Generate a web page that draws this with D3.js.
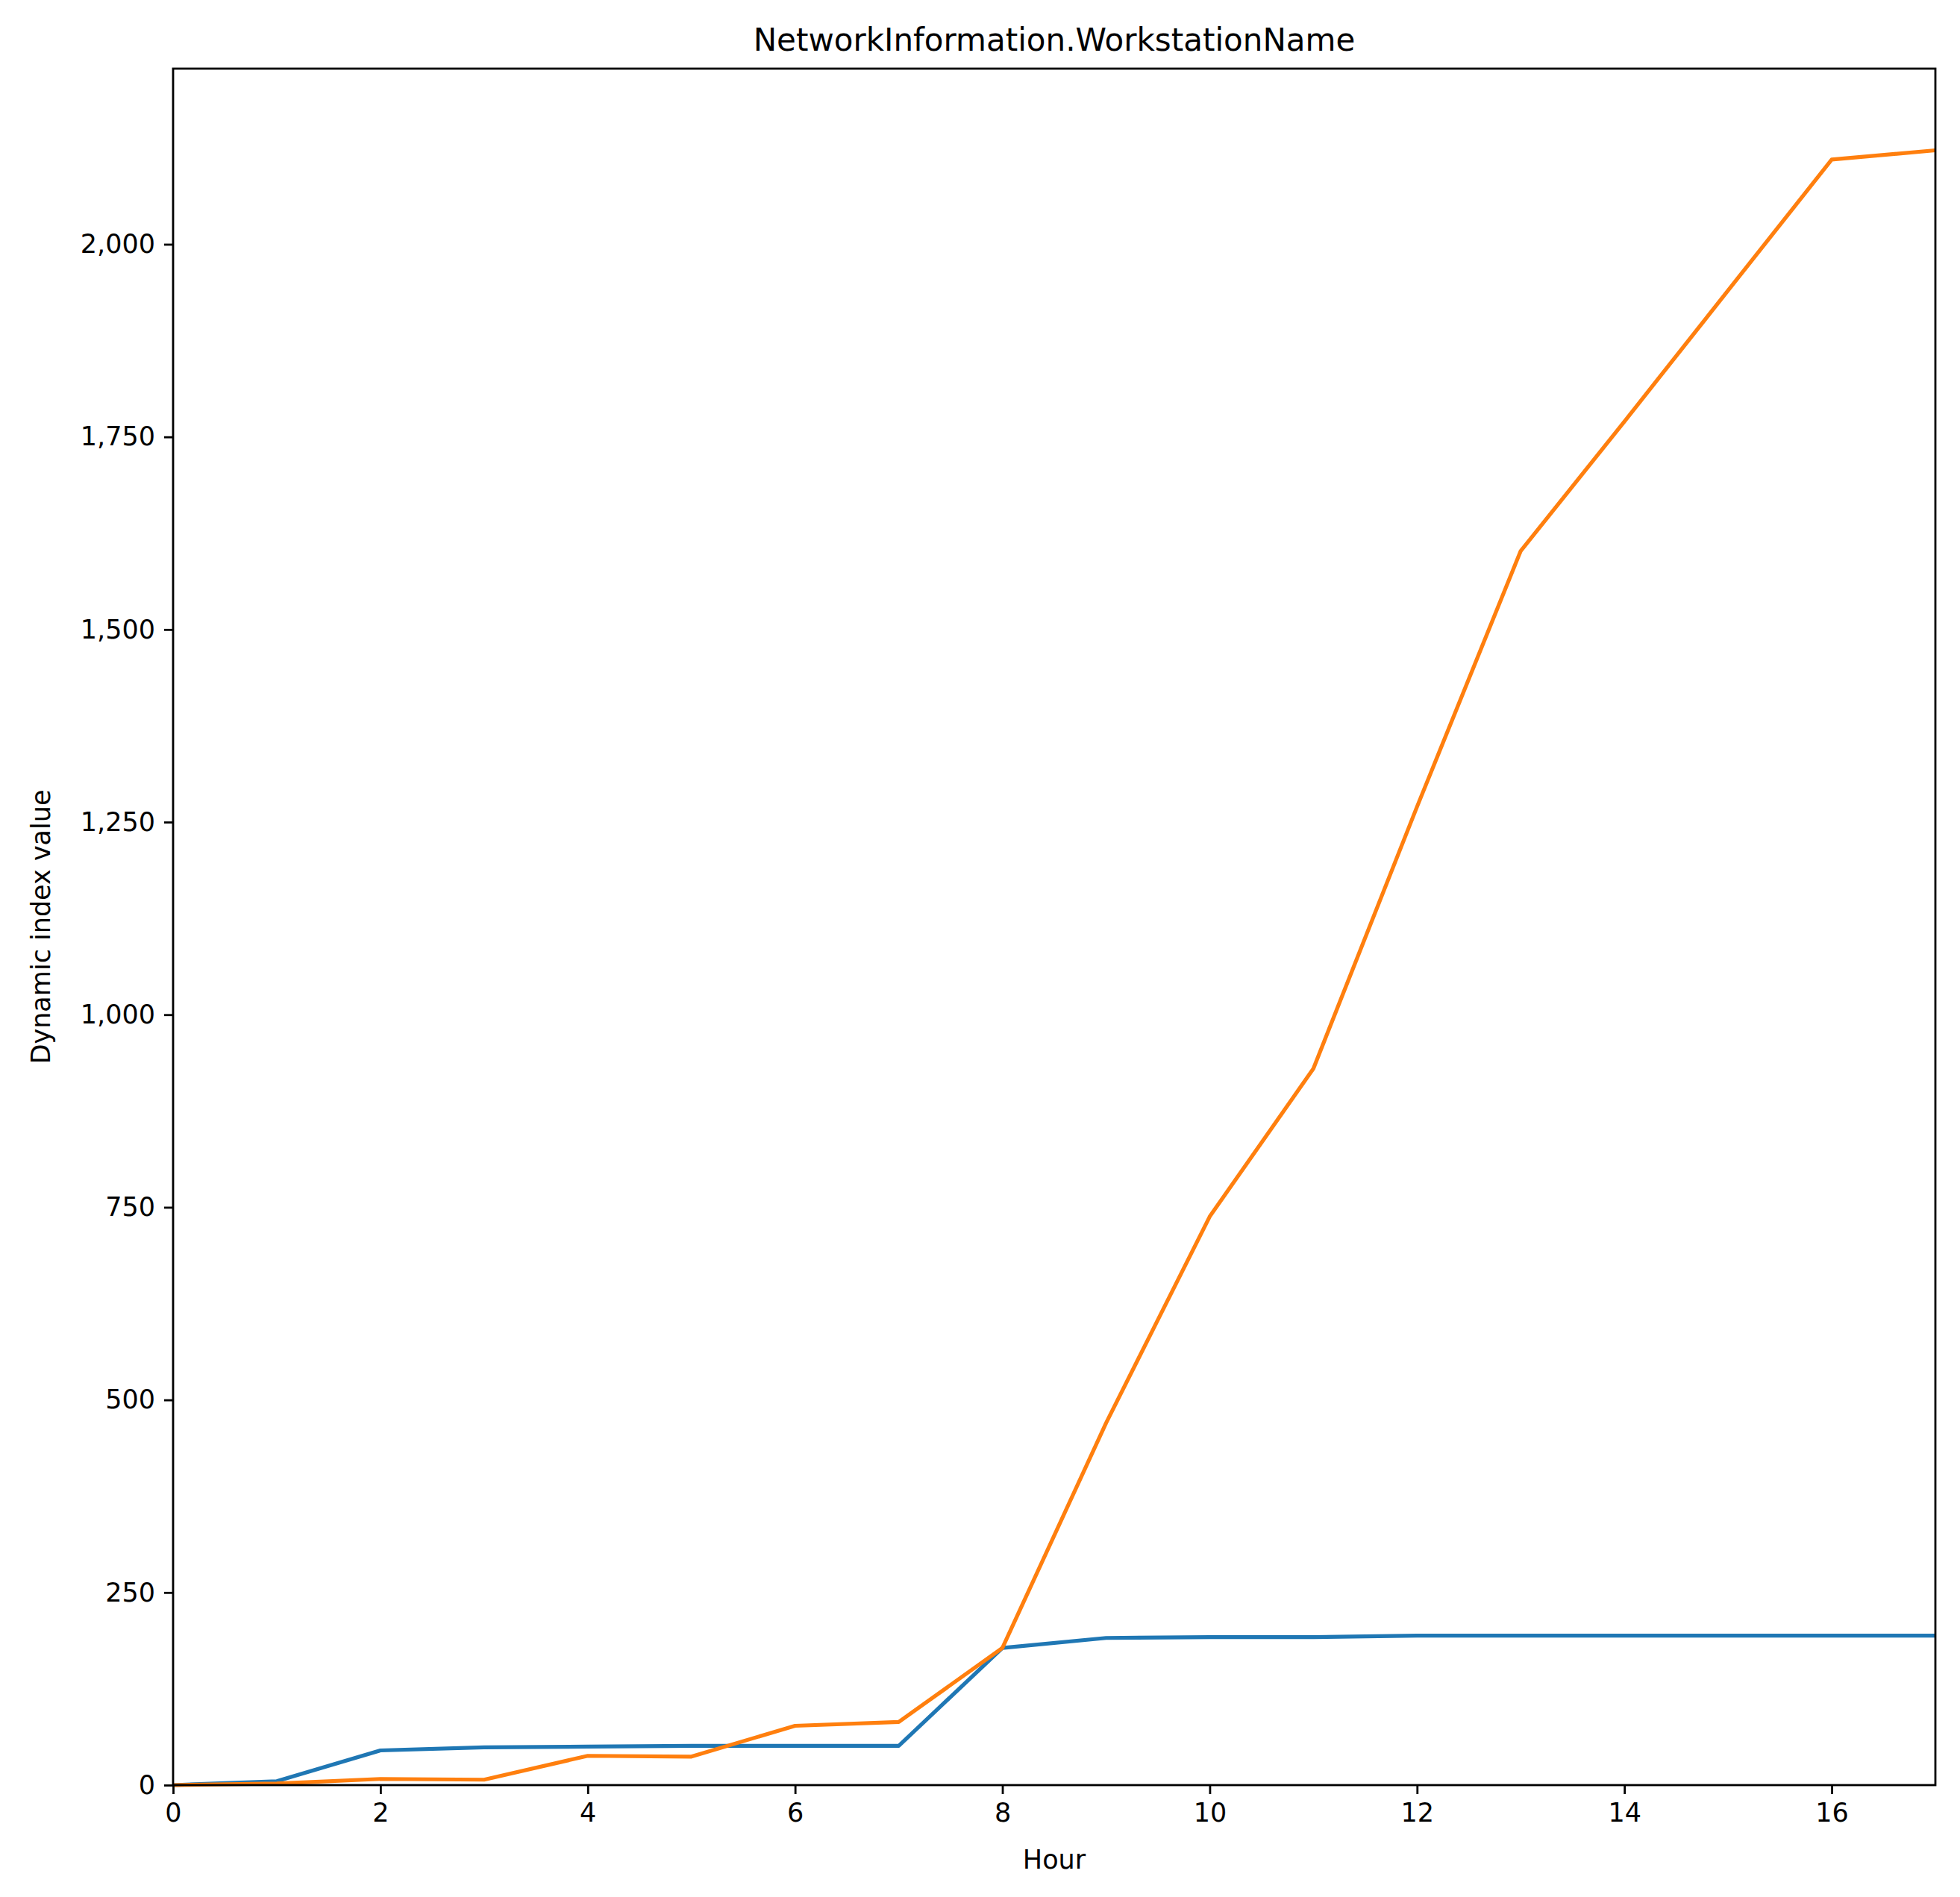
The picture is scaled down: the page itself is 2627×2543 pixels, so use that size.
<!DOCTYPE html>
<meta charset="utf-8">
<body style="margin:0;background:#fff">
<script src="https://d3js.org/d3.v7.min.js"></script>
<script>
var W = 2627, H = 2543
var M = {l: 232, r: 2594, t: 92, b: 2393}

var hours = d3.range(0, 18)
var blue = [0, 5, 45, 49, 50, 51, 51, 51, 178, 191, 192, 192, 194, 194, 194, 194, 194, 194]
var orange = [0, 2, 8, 7, 38, 37, 77, 82, 178, 470, 738, 930, 1270, 1602, 1770, 1940, 2110, 2122]
var xTicks = [0, 2, 4, 6, 8, 10, 12, 14, 16]
var yTicks = [0, 250, 500, 750, 1000, 1250, 1500, 1750, 2000]

var svg = d3.select('body').append('svg')
    .attr('width', W).attr('height', H)
    .style('font-family', 'DejaVu Sans')

var x = d3.scaleLinear().domain([0, 17]).range([M.l, M.r])
var y = d3.scaleLinear().domain([0, 2228]).range([M.b, M.t])

var line = d3.line().x((d, i) => x(hours[i])).y(d => y(d))

;[[blue, '#1f77b4'], [orange, '#ff7f0e']].forEach(s => {
  svg.append('path').attr('d', line(s[0]))
    .attr('fill', 'none').attr('stroke', s[1])
    .attr('stroke-width', 5.2).attr('stroke-linejoin', 'round')
})

var xa = svg.append('g').attr('transform', `translate(0,${M.b})`)
  .call(d3.axisBottom(x).tickValues(xTicks).tickSize(12).tickPadding(12))
var ya = svg.append('g').attr('transform', `translate(${M.l},0)`)
  .call(d3.axisLeft(y).tickValues(yTicks).tickSize(12).tickPadding(12))
;[xa, ya].forEach(a => {
  a.select('.domain').remove()
  a.selectAll('line').attr('stroke-width', 2.8)
  a.selectAll('text').attr('font-size', 35).attr('font-family', 'DejaVu Sans')
})

svg.append('rect').attr('x', M.l).attr('y', M.t)
  .attr('width', M.r - M.l).attr('height', M.b - M.t)
  .attr('fill', 'none').attr('stroke', '#000').attr('stroke-width', 2.8)

svg.append('text').attr('x', (M.l + M.r) / 2).attr('y', M.t - 24)
  .attr('text-anchor', 'middle').attr('font-size', 42)
  .text('NetworkInformation.WorkstationName')
svg.append('text').attr('x', (M.l + M.r) / 2).attr('y', M.b + 112)
  .attr('text-anchor', 'middle').attr('font-size', 35).text('Hour')
svg.append('text')
  .attr('transform', `translate(${M.l - 165},${(M.t + M.b) / 2}) rotate(-90)`)
  .attr('text-anchor', 'middle').attr('font-size', 35).text('Dynamic index value')
</script>
</body>
